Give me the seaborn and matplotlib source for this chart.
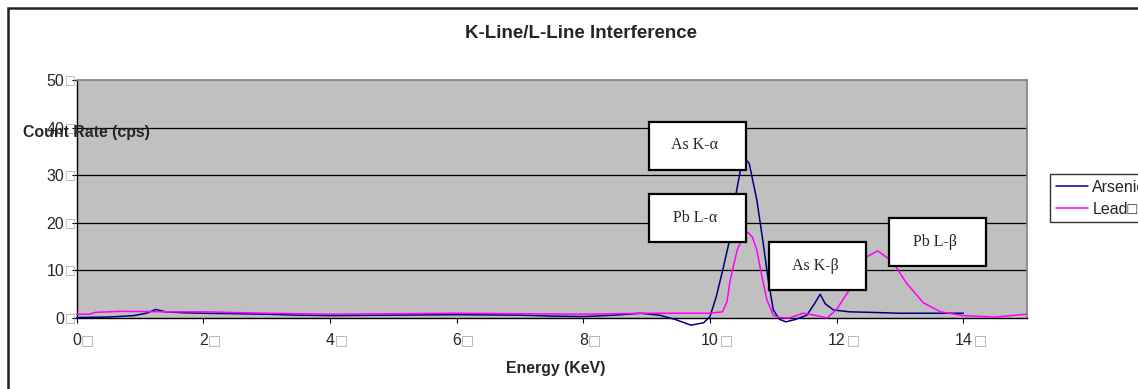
import matplotlib
matplotlib.use("Agg")
import matplotlib.pyplot as plt
from matplotlib.patches import Rectangle
import seaborn as sns
import pandas as pd

sns.set_theme(style="white")
plt.rcParams["font.family"] = ["Liberation Sans", "DejaVu Sans"]

# energy (KeV) / count rate (cps)
arsenic_x = [0, 0.5, 0.9, 1.1, 1.25, 1.4, 1.7, 2.0, 2.5, 3.0, 3.5, 4.0, 5.0, 6.0,
             7.0, 7.5, 8.0, 8.5, 8.9, 9.2, 9.45, 9.7, 9.9, 10.0, 10.1, 10.2, 10.3,
             10.41, 10.48, 10.55, 10.62, 10.74, 10.84, 10.92, 11.0, 11.1, 11.2,
             11.35, 11.53, 11.65, 11.74, 11.82, 11.95, 12.2, 12.5, 13.0, 13.5, 14.0]
arsenic_y = [0.1, 0.2, 0.5, 1.0, 1.8, 1.3, 1.1, 1.0, 0.9, 0.8, 0.6, 0.5, 0.6, 0.7,
             0.6, 0.4, 0.3, 0.6, 1.0, 0.6, -0.3, -1.5, -1.0, 0.3, 4.5, 10.0, 15.8,
             26.0, 31.0, 33.5, 32.5, 24.8, 15.8, 8.0, 1.7, -0.3, -0.8,
             -0.3, 0.6, 3.0, 5.0, 3.0, 1.7, 1.3, 1.2, 1.0, 1.0, 1.0]

lead_x = [0, 0.2, 0.3, 0.7, 1.5, 2.0, 3.0, 4.0, 5.0, 6.0, 7.0, 8.0, 9.0, 9.5,
          10.0, 10.2, 10.27, 10.32, 10.43, 10.52, 10.6, 10.67, 10.74, 10.82, 10.9,
          11.0, 11.1, 11.25, 11.47, 11.65, 11.85, 12.0, 12.2, 12.35, 12.48, 12.65,
          12.85, 12.93, 13.1, 13.37, 13.64, 14.0, 14.5, 15.0]
lead_y = [0.8, 0.8, 1.2, 1.4, 1.3, 1.3, 1.0, 0.8, 0.9, 1.0, 0.9, 0.8, 1.0, 1.0,
          1.0, 1.3, 3.5, 8.0, 14.3, 17.0, 18.0, 17.0, 14.3, 8.7, 3.8,
          0.6, 0.1, 0.0, 1.0, 0.6, 0.0, 1.8, 5.9, 9.5, 12.9, 14.1,
          12.2, 10.9, 7.4, 3.2, 1.3, 0.5, 0.2, 0.8]

series_names = ["Arsenic", "Lead"]
legend_labels = ["Arsenic", "Lead\u25a1"]
x_ticks = [0, 2, 4, 6, 8, 10, 12, 14]
y_ticks = [0, 10, 20, 30, 40, 50]

peak_labels = ["As K-\u03b1", "Pb L-\u03b1", "As K-\u03b2", "Pb L-\u03b2"]
# lower-left corner of each label box (data units)
box_corners = [(9.04, 31.2), (9.04, 16.0), (10.94, 5.9), (12.83, 10.95)]

df = pd.concat([
    pd.DataFrame({"energy": arsenic_x, "rate": arsenic_y, "element": series_names[0]}),
    pd.DataFrame({"energy": lead_x, "rate": lead_y, "element": series_names[1]}),
])

fig = plt.figure(figsize=(11.38, 3.89), dpi=100)
ax = fig.add_axes([0.0674, 0.1825, 0.8347, 0.6115])
ax.set_facecolor("#c0c0c0")

sns.lineplot(data=df, x="energy", y="rate", hue="element", sort=False,
             palette={"Arsenic": "#000080", "Lead": "#ff00ff"},
             linewidth=1.1, ax=ax, legend=False, zorder=3)
for ln in ax.lines:
    ln.set_clip_on(False)  # the dips below zero spill under the axis

ax.set_xlim(0, 15)
ax.set_ylim(0, 50)
ax.set_xticks(x_ticks)
ax.set_yticks(y_ticks)
ax.set_xticklabels([str(t) for t in x_ticks], fontsize=11.5)
ax.set_yticklabels([str(t) for t in y_ticks], fontsize=11.5)
ax.tick_params(axis="both", direction="out", length=3.5, width=0.8, color="black",
               bottom=True, left=True)
ax.tick_params(axis="x", pad=7)
ax.tick_params(axis="y", pad=5.5)
for t in y_ticks[1:-1]:
    ax.axhline(t, color="black", lw=0.9, zorder=1)
ax.set_xlabel("")
ax.set_ylabel("")
for side in ["top", "right"]:
    ax.spines[side].set_color("#808080")
    ax.spines[side].set_linewidth(1.2)
for side in ["bottom", "left"]:
    ax.spines[side].set_color("black")
    ax.spines[side].set_linewidth(1.0)

# the little empty boxes that follow every tick number
for t in x_ticks:
    off = 8.0 if t < 10 else 12.0
    ax.annotate("\u25a1", xy=(t, 0), xycoords=("data", "axes fraction"),
                xytext=(off, -16.0), textcoords="offset points", ha="center",
                va="center", fontsize=10, color="#a8a8a8",
                family=["DejaVu Sans"], annotation_clip=False)
for t in y_ticks:
    ax.annotate("\u25a1", xy=(0, t), xycoords=("axes fraction", "data"),
                xytext=(-4.6, -0.5), textcoords="offset points", ha="center",
                va="center", fontsize=8.5, color="#a8a8a8",
                family=["DejaVu Sans"], annotation_clip=False)

for label, (bx, by) in zip(peak_labels, box_corners):
    ax.add_patch(Rectangle((bx, by), 1.53, 10.1, facecolor="white",
                           edgecolor="black", lw=1.6, zorder=5, clip_on=False))
    ax.text(bx + 0.72, by + 5.1, label, ha="center", va="center", zorder=6,
            fontsize=11.5, family=["Liberation Serif", "DejaVu Serif"])

fig.text(581 / 1138, 1 - 34 / 389, "K-Line/L-Line Interference", ha="center",
         va="center", fontsize=13.5, fontweight="bold")
fig.text(23 / 1138, 1 - 132 / 389, "Count Rate (cps)", ha="left", va="center",
         fontsize=11.4, fontweight="bold", zorder=10)
fig.text(556 / 1138, 1 - 369 / 389, "Energy (KeV)", ha="center", va="center",
         fontsize=11.4, fontweight="bold")

handles = [plt.Line2D([], [], color="#000080", lw=1.1),
           plt.Line2D([], [], color="#ff00ff", lw=1.1)]
leg = fig.legend(handles, legend_labels, loc="upper left",
                 bbox_to_anchor=(1050 / 1138, 1 - 174 / 389), borderaxespad=0,
                 frameon=True, fontsize=11.5, handlelength=2.0,
                 handletextpad=0.3, borderpad=0.35, labelspacing=0.45,
                 fancybox=False)
leg.get_frame().set_edgecolor("black")
leg.get_frame().set_linewidth(1.0)

fig.patches.append(Rectangle((7.5 / 1138, -0.1), 1.2, 1 - 8 / 389 + 0.1,
                             transform=fig.transFigure, fill=False,
                             edgecolor="#222222", lw=1.8, zorder=0))

fig.savefig("out.png", dpi=100)
